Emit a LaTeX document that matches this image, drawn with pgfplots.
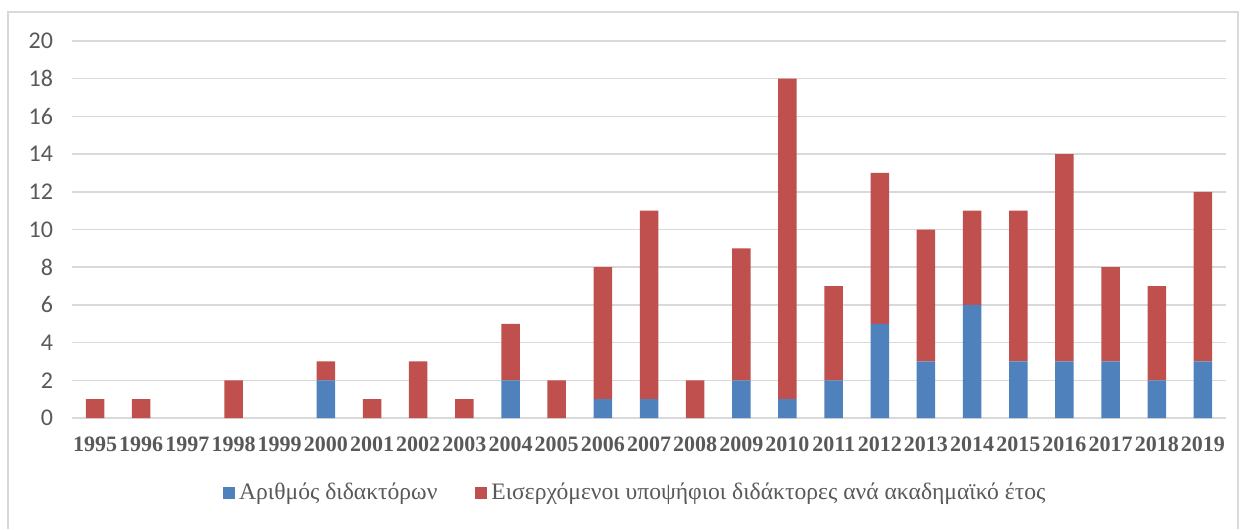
\documentclass[border=0pt]{standalone}
\usepackage{fontspec}
\setmainfont{Liberation Serif}
\newfontfamily\carlito{Carlito}
\usepackage{pgfplots}
\usepackage{pgfplotstable}
\pgfplotsset{compat=1.18}
\definecolor{cblue}{HTML}{4F81BD}
\definecolor{cred}{HTML}{C0504D}
\definecolor{cgrid}{HTML}{D9D9D9}
\definecolor{ctext}{HTML}{595959}
\pgfplotstableread{
x b r
0 0 1
1 0 1
2 0 0
3 0 2
4 0 0
5 2 1
6 0 1
7 0 3
8 0 1
9 2 3
10 0 2
11 1 7
12 1 10
13 0 2
14 2 7
15 1 17
16 2 5
17 5 8
18 3 7
19 6 5
20 3 8
21 3 11
22 3 5
23 2 5
24 3 9
}\data
\begin{document}
\begin{tikzpicture}
\path[fill=white] (0,0) rectangle (620.5pt,264.5pt);
\draw[cgrid, line width=0.8pt] (4pt,0) -- (4pt,258.5pt) -- (619pt,258.5pt) -- (619pt,0);
\begin{axis}[
  at={(36pt,55.5pt)}, anchor=south west,
  scale only axis, width=577pt, height=188.5pt,
  ybar stacked, bar width=9.25pt,
  xmin=-0.5, xmax=24.5, ymin=0, ymax=20,
  xtick=data,
  xticklabels={1995,1996,1997,1998,1999,2000,2001,2002,2003,2004,2005,2006,2007,2008,2009,2010,2011,2012,2013,2014,2015,2016,2017,2018,2019},
  ytick={0,2,...,20},
  /pgf/number format/assume math mode=true,
  ymajorgrids, grid style={cgrid, line width=0.8pt},
  axis line style={draw=none},
  major tick length=0pt,
  yticklabel style={font=\carlito\fontsize{12}{14}\selectfont, text=ctext, xshift=-6pt},
  xticklabel style={font=\bfseries\fontsize{11}{13}\selectfont, text=ctext, yshift=-6pt},
  legend columns=2,
  legend style={draw=none, fill=none, at={(0.489,-0.199)}, anchor=center,
    font=\fontsize{11.8}{14}\selectfont, text=ctext,
    /tikz/every even column/.append style={column sep=17pt}},
  legend image code/.code={\fill[#1] (0pt,-3pt) rectangle (6pt,3pt);},
]
\addplot[fill=cblue, draw=none] table[x=x, y=b] {\data};
\addplot[fill=cred, draw=none] table[x=x, y=r] {\data};
\legend{Αριθμός διδακτόρων, Εισερχόμενοι υποψήφιοι διδάκτορες ανά ακαδημαϊκό έτος}
\end{axis}
\end{tikzpicture}
\end{document}
